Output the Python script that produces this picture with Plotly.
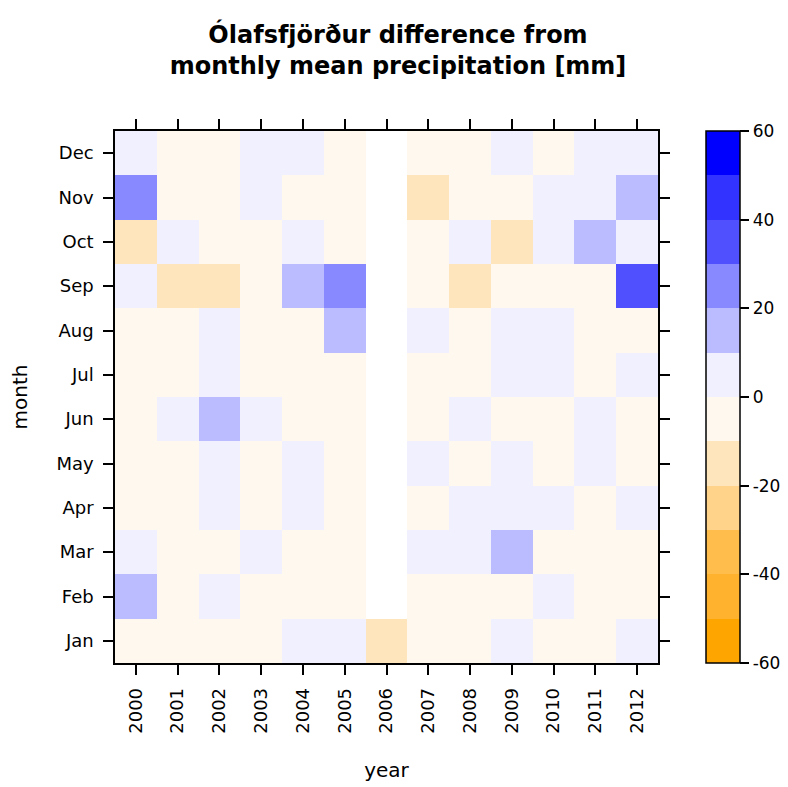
import plotly.graph_objects as go

years = ["2000", "2001", "2002", "2003", "2004", "2005", "2006",
         "2007", "2008", "2009", "2010", "2011", "2012"]
months = ["Jan", "Feb", "Mar", "Apr", "May", "Jun",
          "Jul", "Aug", "Sep", "Oct", "Nov", "Dec"]

# difference from monthly mean precipitation [mm], rows = months Jan..Dec, cols = years
N = None
jan = [-3, -4, -2, -5, 3, 4, -14, -3, -2, 5, -4, -3, 4]
feb = [14, -3, 3, -5, -4, -2, N, -3, -4, -2, 3, -5, -3]
mar = [4, -3, -4, 5, -6, -3, N, 4, 5, 15, -4, -3, -2]
apr = [-3, -4, 3, -2, 4, -3, N, -4, 5, 4, 3, -5, 4]
may = [-4, -3, 4, -5, 3, -2, N, 4, -3, 5, -4, 3, -3]
jun = [-3, 4, 14, 3, -4, -3, N, -2, 4, -5, -3, 4, -4]
jul = [-4, -3, 5, -2, -3, -4, N, -3, -2, 4, 5, -3, 3]
aug = [-3, -4, 4, -3, -5, 15, N, 3, -4, 5, 4, -2, -3]
sep = [4, -13, -12, -4, 16, 25, N, -3, -14, -2, -4, -5, 35]
octo = [-14, 4, -3, -2, 3, -4, N, -3, 5, -15, 4, 14, 3]
nov = [25, -4, -3, 4, -2, -3, N, -13, -4, -2, 5, 3, 16]
dec = [4, -3, -4, 3, 5, -2, N, -3, -4, 4, -3, 5, 3]

zvals = [jan, feb, mar, apr, may, jun, jul, aug, sep, octo, nov, dec]

bin_colors = ["#FFA500", "#FFB22E", "#FFBE4C", "#FFD48A", "#FFE5BB", "#FFF8EF",
              "#F0F0FF", "#BBBBFF", "#8888FF", "#5050FF", "#3333FF", "#0000FF"]
cbar_ticks = [-60, -40, -20, 0, 20, 40, 60]
cbar_labels = ["-60", "-40", "-20", "0", "20", "40", "60"]

colorscale = []
n = len(bin_colors)
for i, c in enumerate(bin_colors):
    colorscale.append([i / n, c])
    colorscale.append([(i + 1) / n, c])

FONT = "DejaVu Sans, Arial"

fig = go.Figure(go.Heatmap(
    z=zvals, x=years, y=months,
    zmin=-60, zmax=60,
    colorscale=colorscale,
    hoverongaps=False,
    colorbar=dict(
        x=1.088, xanchor="left", xpad=0,
        y=0.5, yanchor="middle", ypad=0,
        len=1, lenmode="fraction",
        thickness=34, thicknessmode="pixels",
        outlinecolor="black", outlinewidth=1.5,
        tickvals=cbar_ticks, ticktext=cbar_labels,
        ticks="outside", ticklen=9,
        tickcolor="black", tickwidth=1.5,
        tickfont=dict(family=FONT, size=17, color="black"),
    ),
))

fig.update_layout(
    width=780, height=779,
    margin=dict(l=107, r=130, t=123, b=124, autoexpand=False),
    plot_bgcolor="white", paper_bgcolor="white",
    title=dict(
        text="<b>Ólafsfjörður difference from<br>monthly mean precipitation [mm]</b>",
        x=0.5, xanchor="center", xref="container",
        y=0.955, yanchor="middle",
        font=dict(family=FONT, size=24, color="black"),
    ),
    font=dict(family=FONT, color="black"),
)
fig.update_xaxes(
    type="category", showgrid=False, zeroline=False,
    showline=True, linecolor="black", linewidth=1.5, mirror="allticks",
    ticks="outside", ticklen=10, tickcolor="black", tickwidth=1.5,
    tickangle=-90, tickfont=dict(size=18), ticklabelstandoff=6,
    title=dict(text="year", font=dict(size=20), standoff=30),
)
fig.update_yaxes(
    type="category", showgrid=False, zeroline=False,
    showline=True, linecolor="black", linewidth=1.5, mirror="allticks",
    ticks="outside", ticklen=10, tickcolor="black", tickwidth=1.5,
    tickfont=dict(size=18), ticklabelstandoff=6,
    title=dict(text="month", font=dict(size=20), standoff=26),
)

fig.write_html("out.html")
